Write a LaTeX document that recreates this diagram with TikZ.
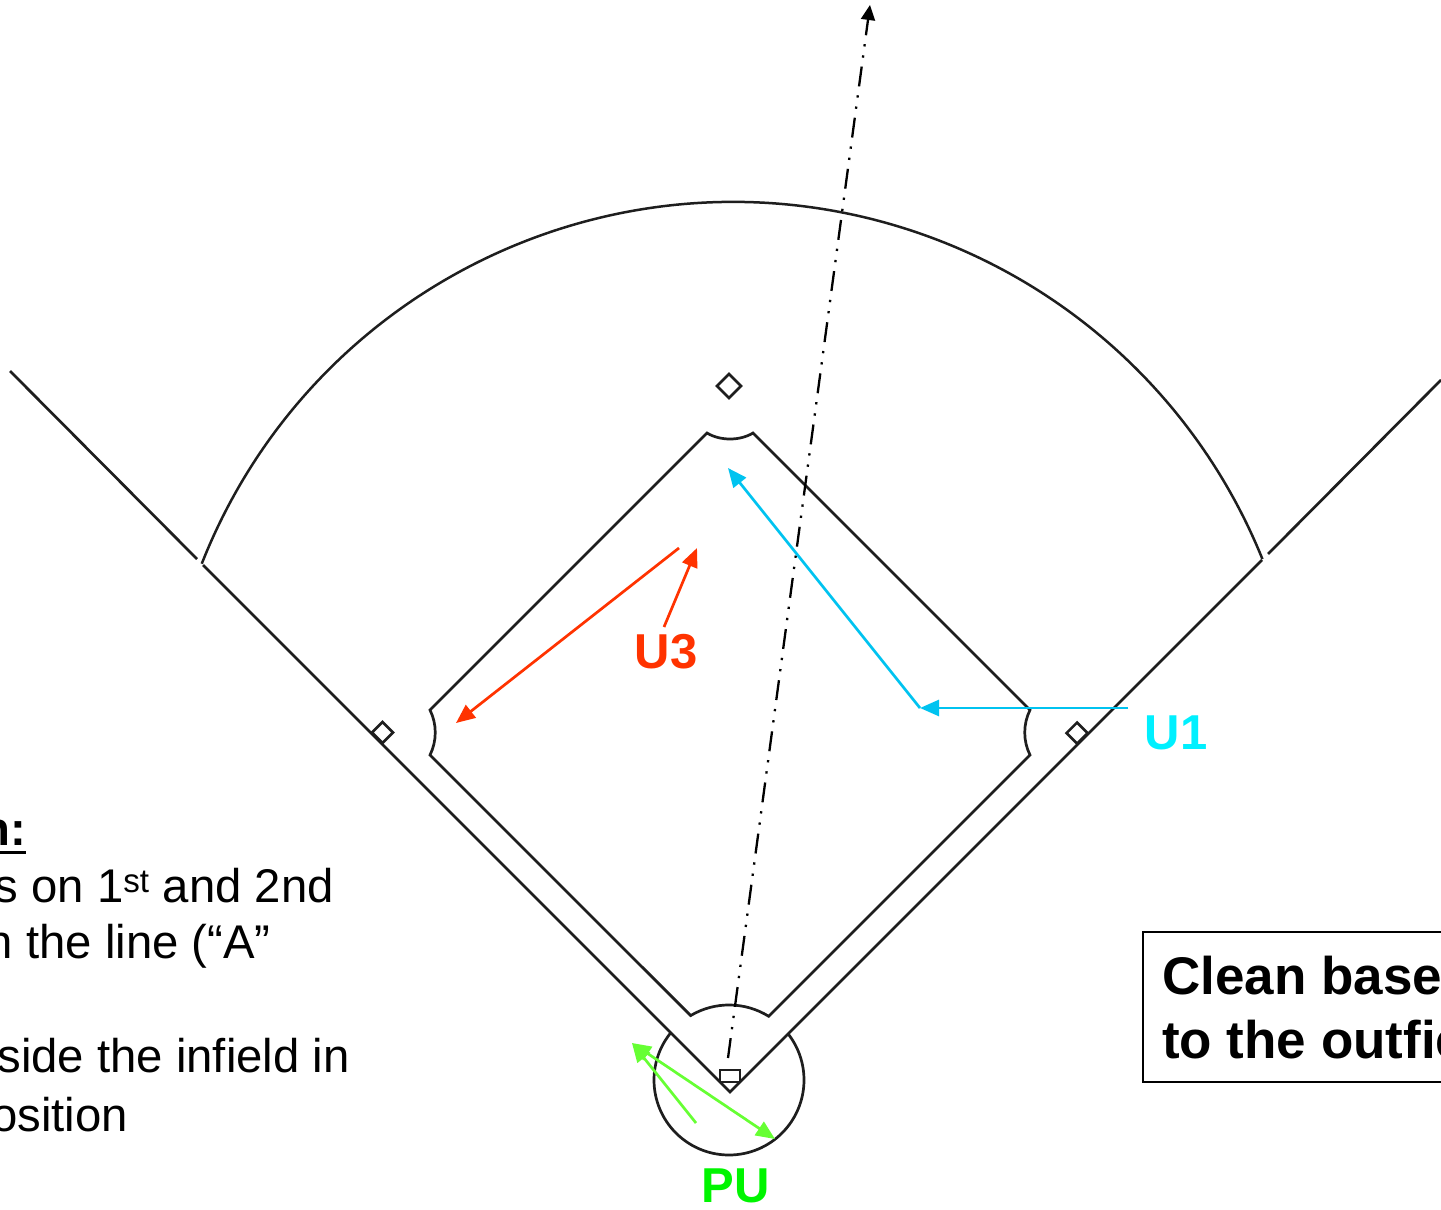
\documentclass[tikz,border=0pt]{standalone}
\usepackage{fontspec}
\setmainfont{Liberation Sans}[Ligatures=CommonOff]
\usetikzlibrary{arrows.meta}
\definecolor{fieldline}{RGB}{30,30,30}
\definecolor{uonecol}{RGB}{0,195,240}
\definecolor{uonetext}{RGB}{0,240,255}
\definecolor{uthreecol}{RGB}{255,51,0}
\definecolor{puarrow}{RGB}{102,255,51}
\definecolor{putext}{RGB}{0,245,0}
\begin{document}
\begin{tikzpicture}[x=1pt,y=-1pt,
  field/.style={draw=fieldline,line width=2.7pt,line join=miter},
  bagshape/.style={draw=fieldline,line width=2.5pt},
  umparrow/.style={line width=2.7pt,-{Triangle[length=19pt,width=16pt]}},
  umplabel/.style={inner sep=0pt,font=\fontsize{49}{58}\selectfont\bfseries},
  bodytext/.style={inner sep=0pt,anchor=base east,font=\fontsize{47.3}{56}\selectfont},
  boxtext/.style={inner sep=0pt,anchor=base west,font=\fontsize{53}{64}\selectfont\bfseries},
  flightline/.style={draw=black,line width=2.3pt,
    dash pattern=on 20pt off 9pt on 2.3pt off 9pt on 2.3pt off 9pt,
    -{Triangle[length=15pt,width=14pt]}}]
\useasboundingbox (0,0) rectangle (1441,1210);
\fill[white] (0,0) rectangle (1441,1210);

% foul lines
\draw[field] (10,371) -- (197,559);
\draw[field] (203,565) -- (730,1092) -- (1262,560);
\draw[field] (1268,554) -- (1441,380);

% outfield arc
\draw[field,line width=2.5pt] (733,773) ++(-158.5:571) arc[start angle=-158.5,end angle=-22,radius=571];

% infield diamond with base cut-outs and home arc
\draw[field] (430,710) -- (707,433)
  .. controls (720,441) and (740,441) .. (753,433)
  -- (1030,710)
  .. controls (1023,724) and (1023,741) .. (1030,755)
  -- (768.7,1016.3)
  arc[start angle=-58.1,end angle=-120.8,radius=75]
  -- (430,755)
  .. controls (437,741) and (437,724) .. (430,710) -- cycle;

% home circle (lower part)
\draw[field] (729,1080) ++(219:75) arc[start angle=219,end angle=-38,radius=75];

% home plate
\draw[field,line width=2.4pt] (720,1082) rectangle (740,1070);

% bases
\draw[bagshape] (717,386) -- (729,374) -- (741,386) -- (729,398) -- cycle;
\draw[bagshape] (372,732.5) -- (382.5,722) -- (393,732.5) -- (382.5,743) -- cycle;
\draw[bagshape] (1066.5,733) -- (1077,722.5) -- (1087.5,733) -- (1077,743.5) -- cycle;

% batted ball flight
\coordinate (hp) at (728,1058);
\coordinate (ballend) at (870,5);
\draw[flightline] (hp) -- (ballend);

% U1
\coordinate (uonestart) at (1128,708);
\coordinate (uonemid) at (920,708);
\coordinate (uoneend) at (728,468);
\draw[umparrow,draw=uonecol,fill=uonecol] (uonestart) -- (uonemid);
\draw[umparrow,draw=uonecol,fill=uonecol] (uonemid) -- (uoneend);
\node[umplabel,text=uonetext] (uonelabel) at (1176,733) {U1};

% U3
\coordinate (uthreea) at (679,548);
\coordinate (uthreeb) at (456,723);
\coordinate (uthreec) at (664,627);
\coordinate (uthreed) at (697,548);
\draw[umparrow,draw=uthreecol,fill=uthreecol] (uthreea) -- (uthreeb);
\draw[umparrow,draw=uthreecol,fill=uthreecol] (uthreec) -- (uthreed);
\node[umplabel,text=uthreecol] (uthreelabel) at (666,652) {U3};

% PU
\coordinate (pua) at (696,1123);
\coordinate (pub) at (632,1043);
\coordinate (puc) at (775,1139);
\draw[umparrow,draw=puarrow,fill=puarrow] (pua) -- (pub);
\draw[umparrow,draw=puarrow,fill=puarrow,{Triangle[length=19pt,width=16pt]}-{Triangle[length=19pt,width=16pt]}] (pub) -- (puc);
\node[umplabel,text=putext] (pulabel) at (736,1186) {PU};

% left text (cut off by the left edge)
\node[bodytext,font=\fontsize{47.3}{56}\selectfont\bfseries] (sitlabel) at (26,845) {n:};
\draw[line width=3pt] (0,852) -- (26,852);
\node[bodytext] (lineone) at (334,902) {s on 1\textsuperscript{st} and 2nd};
\node[bodytext] (linetwo) at (271,958) {n the line (“A”};
\node[bodytext] (linefour) at (350,1072) {side the infield in};
\node[bodytext] (linefive) at (128,1131) {osition};

% right box (cut off by the right edge)
\draw[line width=2.2pt] (1143,932) rectangle (1470,1082);
\node[boxtext] (boxone) at (1162,994) {Clean base};
\node[boxtext] (boxtwo) at (1162,1058) {to the outfie};
\end{tikzpicture}
\end{document}
